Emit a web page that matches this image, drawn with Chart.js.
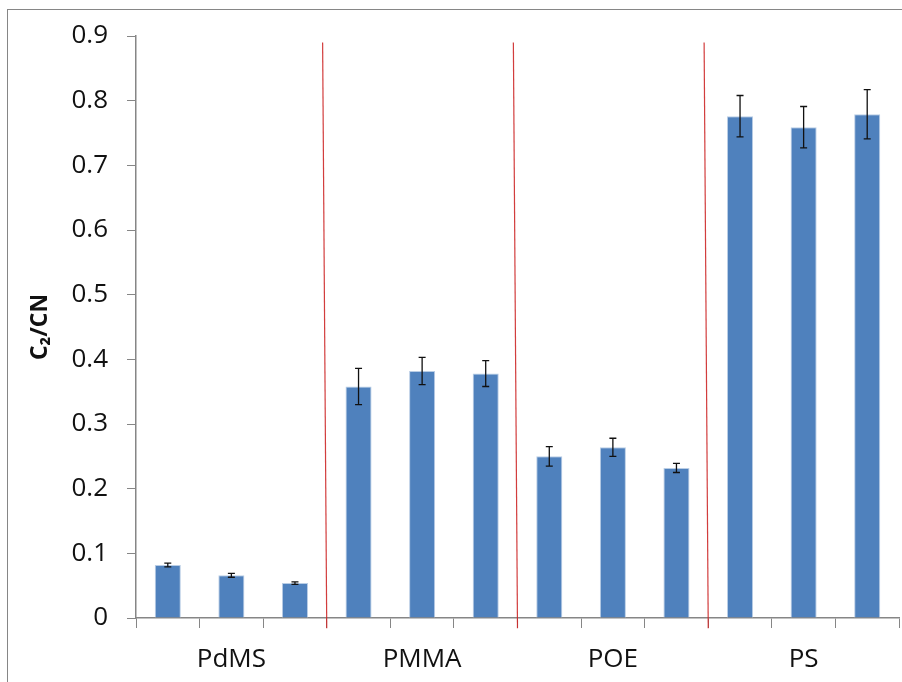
<!DOCTYPE html>
<html>
<head>
<meta charset="utf-8">
<script src="https://cdn.jsdelivr.net/npm/chart.js@4/dist/chart.umd.min.js"></script>
<style>
  html, body { margin: 0; padding: 0; background: #fff; }
  #wrap { width: 902px; height: 682px; position: relative; }
</style>
</head>
<body>
<div id="wrap"><canvas id="c2cn-chart" width="902" height="682"></canvas></div>
<script>
// samples, three per polymer
var groups = ['PdMS', 'PMMA', 'POE', 'PS'];
var samples = ['PdMS-1', 'PdMS-2', 'PdMS-3',
               'PMMA-1', 'PMMA-2', 'PMMA-3',
               'POE-1', 'POE-2', 'POE-3',
               'PS-1', 'PS-2', 'PS-3'];
var ratios = [0.082, 0.066, 0.054,
              0.358, 0.382, 0.378,
              0.250, 0.264, 0.232,
              0.776, 0.759, 0.779];
var errors = [0.003, 0.003, 0.002,
              0.028, 0.021, 0.020,
              0.015, 0.014, 0.007,
              0.032, 0.032, 0.038];
var yTickLabels = ['0', '0.1', '0.2', '0.3', '0.4', '0.5', '0.6', '0.7', '0.8', '0.9'];
// red separators sit between the groups (category index)
var separators = [2.5, 5.5, 8.5];

var gray = '#868686';
var fontName = '"Open Sans", "Noto Sans", sans-serif';

// outer frame of the figure
var framePlugin = {
  id: 'frame',
  beforeDraw: function(chart) {
    var c = chart.ctx;
    c.save();
    c.fillStyle = '#fff';
    c.fillRect(0, 0, chart.width, chart.height);
    c.strokeStyle = gray;
    c.lineWidth = 1;
    c.strokeRect(7.5, 9.5, chart.width + 10, chart.height + 10);
    c.restore();
  }
};

// error bars + red group separators
var extrasPlugin = {
  id: 'extras',
  afterDatasetsDraw: function(chart) {
    var c = chart.ctx;
    var x = chart.scales.x, y = chart.scales.y;
    c.save();
    c.strokeStyle = '#111';
    c.lineWidth = 1.3;
    for (var i = 0; i < ratios.length; i++) {
      var px = x.getPixelForValue(i);
      var top = y.getPixelForValue(ratios[i] + errors[i]);
      var bot = y.getPixelForValue(ratios[i] - errors[i]);
      c.beginPath();
      c.moveTo(px, top); c.lineTo(px, bot);
      c.moveTo(px - 3.5, top); c.lineTo(px + 3.5, top);
      c.moveTo(px - 3.5, bot); c.lineTo(px + 3.5, bot);
      c.stroke();
    }
    c.strokeStyle = 'rgba(205, 40, 40, 0.9)';
    c.lineWidth = 1.2;
    separators.forEach(function(s) {
      c.beginPath();
      c.moveTo(x.getPixelForValue(s - 0.065), y.getPixelForValue(0.89));
      c.lineTo(x.getPixelForValue(s), y.getPixelForValue(-0.016));
      c.stroke();
    });
    c.restore();
  }
};

var ctx = document.getElementById('c2cn-chart');
var myChart = new Chart(ctx, {
  type: 'bar',
  data: {
    labels: samples,
    datasets: [{
      data: ratios,
      backgroundColor: '#4F81BD',
      borderColor: '#B9CDE5',
      borderWidth: 1,
      barPercentage: 0.41,
      categoryPercentage: 1.0
    }]
  },
  plugins: [framePlugin, extrasPlugin],
  options: {
    responsive: false,
    animation: false,
    layout: { padding: { left: 0, right: 3, top: 36, bottom: 0 } },
    plugins: {
      legend: { display: false },
      tooltip: { enabled: false }
    },
    scales: {
      x: {
        position: 'bottom',
        weight: 0,
        offset: true,
        grid: { display: true, drawOnChartArea: false, offset: true, tickLength: 10, color: gray },
        border: { color: gray, width: 1.5 },
        ticks: { display: false },
        afterFit: function(s) { s.height = 10; }
      },
      x2: {
        type: 'category',
        position: 'bottom',
        weight: 10,
        labels: groups,
        offset: true,
        grid: { display: false, drawTicks: false },
        border: { display: false },
        ticks: { color: '#111', padding: 16, font: { family: fontName, size: 26 } },
        afterFit: function(s) { s.height = 54; }
      },
      y: {
        min: 0,
        max: 0.9,
        grid: { drawOnChartArea: false, tickLength: 9, color: gray },
        border: { color: gray, width: 1.5 },
        ticks: {
          stepSize: 0.1,
          padding: 19,
          color: '#111',
          font: { family: fontName, size: 26 },
          callback: function(v) { return yTickLabels[Math.round(v * 10)]; }
        },
        title: {
          display: true,
          text: 'C\u2082/CN',
          color: '#111',
          padding: { top: 27, bottom: 0 },
          font: { family: fontName, size: 23, weight: 'bold' }
        },
        afterFit: function(s) { s.width = 136; }
      }
    }
  }
});
</script>
</body>
</html>
